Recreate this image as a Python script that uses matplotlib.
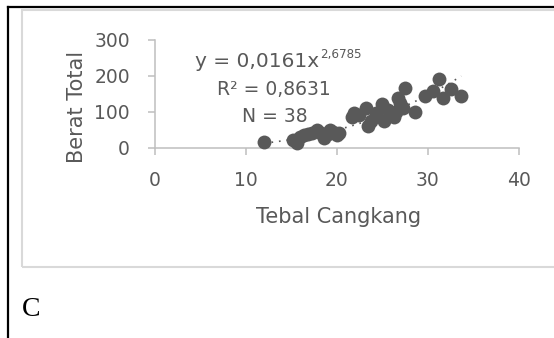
import matplotlib
matplotlib.use("Agg")
import matplotlib.pyplot as plt
import numpy as np
from matplotlib.lines import Line2D
from matplotlib.patches import Rectangle

# Shell thickness vs total weight
tebal = [12.0, 15.2, 15.6, 16.0, 16.4, 16.8, 17.3, 17.8, 18.3, 18.6,
         19.0, 19.3, 19.6, 20.0, 20.3, 21.7, 21.9, 22.4, 23.2, 23.4,
         23.8, 24.3, 25.0, 25.2, 25.6, 26.3, 26.5, 26.7, 27.0, 27.3,
         27.5, 28.6, 29.7, 30.6, 31.3, 31.7, 32.6, 33.7]
berat = [17, 22, 12, 30, 35, 38, 42, 48, 40, 28,
         38, 50, 45, 35, 42, 84, 97, 90, 111, 61,
         75, 95, 121, 75, 105, 84, 100, 139, 125, 111,
         167, 98, 144, 157, 190, 139, 162, 144]

# Power trendline y = a * x^b
coef_a = 0.0161
coef_b = 2.6785
eq_main = "y = 0,0161x"
eq_exp = "2,6785"
r2_text = "0,8631"
n_text = "38"

xticks = [0, 10, 20, 30, 40]
yticks = [0, 100, 200, 300]

W, H = 554, 338
fig = plt.figure(figsize=(W / 100, H / 100), dpi=100)
fig.patch.set_facecolor("white")

def fx(px):
    return px / W

def fy(py):
    return 1 - py / H

txt_col = "#595959"
axis_col = "#bfbfbf"
font = "DejaVu Sans"

# Page rules and chart frame
fig.add_artist(Line2D([fx(8), fx(8)], [fy(7), fy(338)], color="black", lw=1.6,
                      transform=fig.transFigure))
fig.add_artist(Line2D([fx(8), fx(554)], [fy(7), fy(7)], color="black", lw=1.6,
                      transform=fig.transFigure))
fig.add_artist(Rectangle((fx(22), fy(267)), fx(560) - fx(22), fy(10) - fy(267),
                         transform=fig.transFigure, fill=False,
                         edgecolor="#d9d9d9", lw=1.5))

ax_l, ax_r, ax_b, ax_t = 155, 518.5, 147.7, 39.7
ax = fig.add_axes([fx(ax_l), fy(ax_b), fx(ax_r) - fx(ax_l), fy(ax_t) - fy(ax_b)])
ax.set_facecolor("none")

ax.scatter(tebal, berat, s=100, color="#595959", zorder=3, linewidths=0,
           clip_on=False)

xs = np.linspace(min(tebal), max(tebal), 200)
ax.plot(xs, coef_a * xs ** coef_b, color="#595959", lw=1.2,
        linestyle=(0, (1, 3.5)), zorder=2)

ax.set_xlim(0, 40)
ax.set_ylim(0, 300)
ax.set_xticks(xticks)
ax.set_yticks(yticks)
for side in ("top", "right"):
    ax.spines[side].set_visible(False)
for side in ("left", "bottom"):
    ax.spines[side].set_color(axis_col)
    ax.spines[side].set_linewidth(1.1)
ax.tick_params(colors=axis_col, length=5, width=1.1, direction="out",
               labelcolor=txt_col, labelsize=13.5)
ax.tick_params(axis="x", pad=12)
ax.tick_params(axis="y", pad=13)
for lab in ax.get_xticklabels() + ax.get_yticklabels():
    lab.set_family(font)

# Axis titles placed by their baselines
ax_w, ax_h = ax_r - ax_l, ax_b - ax_t
ax.set_xlabel("Tebal Cangkang", color=txt_col, fontsize=15, family=font)
ax.xaxis.set_label_coords((339 - ax_l) / ax_w, (ax_b - 223) / ax_h)
ax.xaxis.label.set_verticalalignment("baseline")
ax.set_ylabel("Berat Total", color=txt_col, fontsize=15, family=font)
ax.yaxis.set_label_coords((83 - ax_l) / ax_w, (ax_b - 106.5) / ax_h)
ax.yaxis.label.set_verticalalignment("baseline")

# Trendline equation block
eq = fig.text(fx(195), fy(66.7), eq_main, color=txt_col, fontsize=14.5,
              family=font, ha="left", va="baseline")
ax.annotate(eq_exp, xy=(1, 0), xycoords=eq, xytext=(0.8, 9),
            textcoords="offset points", color=txt_col, fontsize=8.6,
            family=font, ha="left", va="baseline")
fig.text(fx(274), fy(95), "R\u00b2 = " + r2_text, color=txt_col, fontsize=13.5,
         family=font, ha="center", va="baseline")
fig.text(fx(275), fy(122), "N = " + n_text, color=txt_col, fontsize=13.5,
         family=font, ha="center", va="baseline")

fig.text(fx(21.5), fy(316.5), "C", color="black", fontsize=20,
         family="Liberation Serif", ha="left", va="baseline")

fig.savefig("out.png", dpi=100)
